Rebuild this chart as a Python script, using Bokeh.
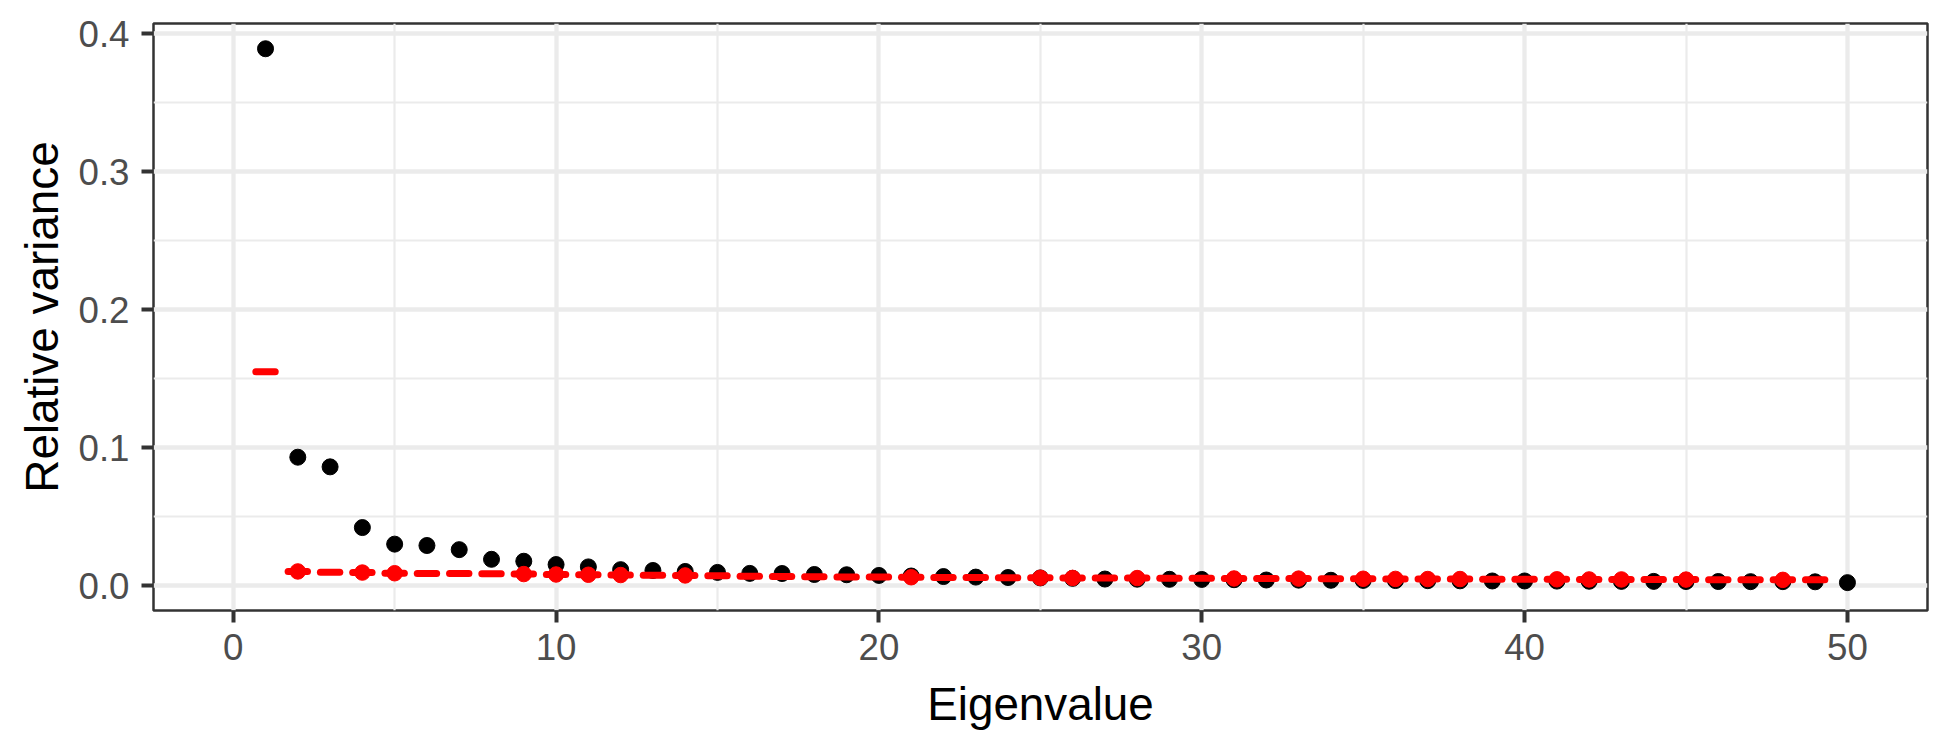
from bokeh.plotting import figure
from bokeh.models import Range1d, FixedTicker
from bokeh.embed import file_html
from bokeh.resources import INLINE

# ---------------- data ----------------
eigen_index = list(range(1, 51))
observed_var = [0.389, 0.093, 0.086, 0.042, 0.030, 0.029, 0.026, 0.019, 0.0176, 0.0152,
                0.0135, 0.0115, 0.0109, 0.0102, 0.0095, 0.0088, 0.0087, 0.0080, 0.0078, 0.0073,
                0.0069, 0.0065, 0.0061, 0.0058, 0.0055, 0.0052, 0.0047, 0.0046, 0.0045, 0.0044,
                0.0042, 0.0040, 0.0039, 0.0038, 0.0037, 0.0036, 0.0035, 0.0034, 0.0033, 0.0033,
                0.0032, 0.0031, 0.0030, 0.0030, 0.0029, 0.0029, 0.0028, 0.0028, 0.0027, 0.0021]

ref_index = list(range(1, 50))
ref_var = [0.155, 0.0102, 0.0096, 0.0094, 0.0089, 0.0088, 0.0087, 0.0086, 0.0083, 0.0080,
           0.0078, 0.0076, 0.0075, 0.0073, 0.0070, 0.0068, 0.0066, 0.0063, 0.0062, 0.0061,
           0.0060, 0.0059, 0.0058, 0.0057, 0.0056, 0.0055, 0.0055, 0.0054, 0.0053, 0.0052,
           0.0051, 0.0051, 0.0050, 0.0049, 0.0049, 0.0048, 0.0047, 0.0047, 0.0046, 0.0045,
           0.0045, 0.0044, 0.0044, 0.0043, 0.0043, 0.0042, 0.0042, 0.0041, 0.0041]

ref_point_index = [2, 4, 5, 9, 10, 11, 12, 14, 21, 25, 26, 28, 31, 33, 35, 36, 37, 38,
                   41, 42, 43, 45, 48]

x_ticks = [0, 10, 20, 30, 40, 50]
x_minor = [5, 15, 25, 35, 45]
y_ticks = [0.0, 0.1, 0.2, 0.3, 0.4]
y_tick_labels = ["0.0", "0.1", "0.2", "0.3", "0.4"]
y_minor = [0.05, 0.15, 0.25, 0.35]

x_title = "Eigenvalue"
y_title = "Relative variance"

# ---------------- derived ----------------
seg_half = 0.3
ref_x0 = [x - seg_half for x in ref_index]
ref_x1 = [x + seg_half for x in ref_index]
ref_point_y = [ref_var[ref_index.index(i)] for i in ref_point_index]

FONT = "Liberation Sans"

p = figure(width=1934, height=734, output_backend="svg", toolbar_location=None,
           x_range=Range1d(-2.47, 52.48), y_range=Range1d(-0.0181, 0.4073),
           frame_width=1774, frame_height=587)
p.min_border_left = 153
p.min_border_right = 7
p.min_border_top = 23
p.min_border_bottom = 124
p.background_fill_color = "white"
p.border_fill_color = "white"
p.outline_line_color = "#333333"
p.outline_line_width = 2.5

# ticks
p.xaxis.ticker = FixedTicker(ticks=x_ticks, minor_ticks=x_minor)
p.yaxis.ticker = FixedTicker(ticks=y_ticks, minor_ticks=y_minor)
p.yaxis.major_label_overrides = {t: l for t, l in zip(y_ticks, y_tick_labels)}

for ax in (p.xaxis, p.yaxis):
    ax.axis_line_color = None
    ax.major_tick_line_color = "#333333"
    ax.major_tick_line_width = 4
    ax.major_tick_in = 0
    ax.major_tick_out = 12
    ax.minor_tick_line_color = None
    ax.major_label_text_font = FONT
    ax.major_label_text_font_size = "36.7px"
    ax.major_label_text_color = "#4D4D4D"
    ax.axis_label_text_font = FONT
    ax.axis_label_text_font_size = "45.8px"
    ax.axis_label_text_font_style = "normal"
    ax.axis_label_text_color = "black"

p.xaxis.major_label_standoff = 11
p.xaxis.axis_label_standoff = 16
p.yaxis.major_label_standoff = 12
p.yaxis.axis_label_standoff = 7
p.xaxis.axis_label = x_title
p.yaxis.axis_label = y_title

# grids
for g in (p.xgrid, p.ygrid):
    g.grid_line_color = "#EBEBEB"
    g.grid_line_width = 4.3
    g.minor_grid_line_color = "#EBEBEB"
    g.minor_grid_line_width = 2.2

# data
p.scatter(eigen_index, observed_var, size=16, color="black")
p.segment(x0=ref_x0, x1=ref_x1, y0=ref_var, y1=ref_var, line_color="red",
          line_width=7, line_cap="round")
p.scatter(ref_point_index, ref_point_y, size=15.5, color="red")

open("out.html", "w").write(file_html(p, INLINE))
